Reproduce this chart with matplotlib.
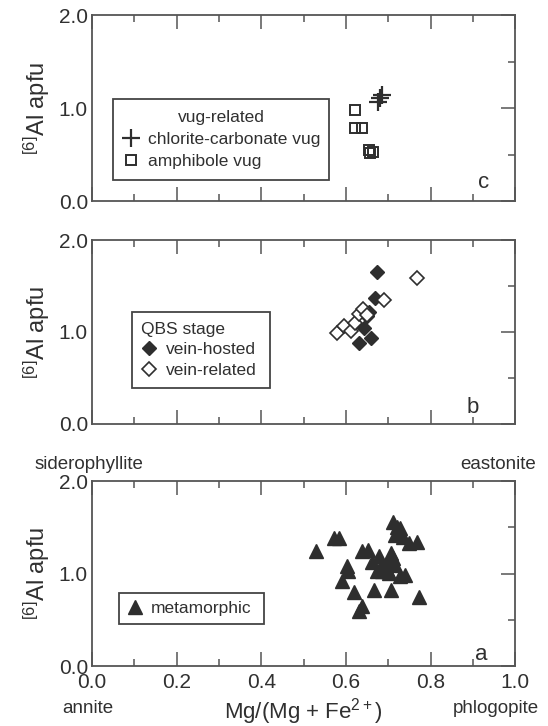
import matplotlib
matplotlib.use("Agg")
import matplotlib.pyplot as plt
from matplotlib.ticker import MultipleLocator, FixedLocator

plt.rcParams['font.family'] = ['Liberation Sans', 'DejaVu Sans']
plt.rcParams['mathtext.fontset'] = 'custom'
plt.rcParams['mathtext.rm'] = 'Liberation Sans'
plt.rcParams['mathtext.it'] = 'Liberation Sans:italic'
plt.rcParams['mathtext.default'] = 'regular'

# ---------------- data ----------------
# panel c: vug-related
chl_carb_x = [0.675, 0.686, 0.680]
chl_carb_y = [1.07, 1.14, 1.11]
amph_vug_x = [0.621, 0.621, 0.637, 0.654, 0.663, 0.658]
amph_vug_y = [0.98, 0.79, 0.79, 0.55, 0.53, 0.52]

# panel b: QBS stage
vein_hosted_x = [0.673, 0.669, 0.631, 0.660, 0.642, 0.650, 0.655]
vein_hosted_y = [1.655, 1.37, 0.885, 0.93, 1.04, 1.17, 1.22]
vein_related_x = [0.580, 0.596, 0.613, 0.622, 0.630, 0.640, 0.650, 0.689, 0.767]
vein_related_y = [0.99, 1.07, 1.01, 1.10, 1.20, 1.25, 1.19, 1.35, 1.585]

# panel a: metamorphic
meta_x = [0.529, 0.573, 0.583, 0.603, 0.606, 0.591, 0.618, 0.632, 0.637,
          0.637, 0.653, 0.666, 0.662, 0.678, 0.682, 0.690, 0.695, 0.699,
          0.707, 0.711, 0.715, 0.707, 0.711, 0.720, 0.715, 0.728, 0.736,
          0.749, 0.769, 0.728, 0.740, 0.773, 0.686, 0.674, 0.703]
meta_y = [1.239, 1.382, 1.380, 1.077, 1.023, 0.916, 0.797, 0.592, 0.646,
          1.239, 1.257, 0.826, 1.120, 1.185, 1.077, 1.060, 1.095, 1.023,
          1.220, 1.167, 1.095, 0.826, 1.562, 1.508, 1.418, 1.490, 1.400,
          1.330, 1.346, 0.970, 0.987, 0.747, 1.023, 1.023, 1.005]

x_ticks = [0.0, 0.2, 0.4, 0.6, 0.8, 1.0]
x_ticklabels = ['0.0', '0.2', '0.4', '0.6', '0.8', '1.0']
y_ticks = [0.0, 1.0, 2.0]
y_ticklabels = ['0.0', '1.0', '2.0']

# ---------------- style ----------------
ink = '#2e2e2e'
txt = '#303030'
spine_c = '#555555'
fs_tick = 15
fs_lab = 17
fs_leg = 12.5
fs_em = 13.5

fig = plt.figure(figsize=(5.48, 7.26), dpi=100)
axc = fig.add_axes([0.168, 0.7231, 0.772, 0.2562])
axb = fig.add_axes([0.168, 0.4160, 0.772, 0.2534])
axa = fig.add_axes([0.168, 0.0826, 0.772, 0.2548])


def style(ax, xlabels):
    ax.set_xlim(0, 1)
    ax.set_ylim(0, 2)
    ax.xaxis.set_major_locator(FixedLocator(x_ticks))
    ax.xaxis.set_minor_locator(MultipleLocator(0.1))
    ax.yaxis.set_major_locator(FixedLocator(y_ticks))
    ax.yaxis.set_minor_locator(MultipleLocator(0.5))
    ax.set_yticklabels(y_ticklabels)
    if xlabels:
        ax.set_xticklabels(x_ticklabels)
    else:
        ax.set_xticklabels([])
    ax.tick_params(which='both', direction='in', top=True, bottom=True,
                   right=True, left=False, color=spine_c, width=1.1,
                   labelsize=fs_tick, labelcolor=txt)
    ax.tick_params(which='major', length=10, pad=3)
    ax.tick_params(which='minor', length=5)
    ax.tick_params(axis='x', which='major', pad=5)
    for s in ax.spines.values():
        s.set_color(spine_c)
        s.set_linewidth(1.3)
    ax.set_ylabel(r'$^{[6]}$Al apfu', fontsize=fs_lab, color=txt, labelpad=5)


for ax, xl in ((axc, False), (axb, False), (axa, True)):
    style(ax, xl)

leg_kw = dict(fontsize=fs_leg, frameon=True, fancybox=False, framealpha=1,
              edgecolor='#444444', handlelength=0.9, handletextpad=0.5,
              borderaxespad=0, labelspacing=0.42, borderpad=0.6,
              mode='expand', loc='upper left', labelcolor=txt)

# panel c
axc.plot(chl_carb_x, chl_carb_y, ls='none', marker='+', ms=13, mew=1.6,
         color=ink, label='chlorite-carbonate vug')
axc.plot(amph_vug_x, amph_vug_y, ls='none', marker='s', ms=7.5, mew=1.4,
         mfc='none', mec=ink, label='amphibole vug')
lc = axc.legend(title='vug-related', title_fontsize=fs_leg,
                bbox_to_anchor=(0.05, 0.538, 0.511, 0.01), **leg_kw)
lc.get_frame().set_linewidth(1.3)
lc.get_title().set_color(txt)
axc.text(0.925, 0.10, 'c', transform=axc.transAxes, fontsize=16,
         color=txt, ha='center', va='center')

# panel b
axb.plot(vein_hosted_x, vein_hosted_y, ls='none', marker='D', ms=7.5,
         mfc=ink, mec=ink, label='vein-hosted')
axb.plot(vein_related_x, vein_related_y, ls='none', marker='D', ms=7.5,
         mfc='white', mec=ink, mew=1.2, label='vein-related')
lb = axb.legend(title='QBS stage', title_fontsize=fs_leg, alignment='left',
                bbox_to_anchor=(0.094, 0.598, 0.326, 0.01),
                **{**leg_kw, 'labelspacing': 0.32, 'borderpad': 0.55})
lb.get_frame().set_linewidth(1.3)
lb.get_title().set_color(txt)
axb.text(0.90, 0.09, 'b', transform=axb.transAxes, fontsize=16,
         color=txt, ha='center', va='center')

# panel a
axa.plot(meta_x, meta_y, ls='none', marker='^', ms=10, mfc=ink, mec=ink,
         label='metamorphic')
la = axa.legend(bbox_to_anchor=(0.064, 0.384, 0.342, 0.01),
                **{**leg_kw, 'borderpad': 0.45})
la.get_frame().set_linewidth(1.3)
axa.text(0.92, 0.06, 'a', transform=axa.transAxes, fontsize=16,
         color=txt, ha='center', va='center')
axa.set_xlabel(r'Mg/(Mg + Fe$^{2+}$)', fontsize=16, color=txt, labelpad=3)

# end-member labels
axa.text(-0.135, 1.09, 'siderophyllite', transform=axa.transAxes,
         fontsize=fs_em, color=txt, ha='left', va='center')
axa.text(1.05, 1.09, 'eastonite', transform=axa.transAxes,
         fontsize=fs_em, color=txt, ha='right', va='center')
axa.text(-0.01, -0.23, 'annite', transform=axa.transAxes,
         fontsize=fs_em, color=txt, ha='center', va='center')
axa.text(0.955, -0.23, 'phlogopite', transform=axa.transAxes,
         fontsize=fs_em, color=txt, ha='center', va='center')

fig.savefig('out.png', dpi=100)
